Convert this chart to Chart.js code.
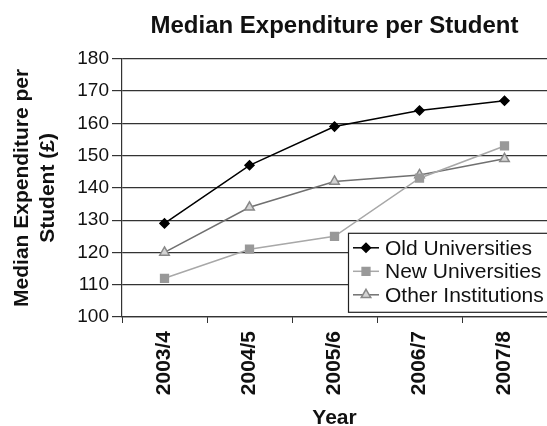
<!DOCTYPE html>
<html lang="en">
<head>
  <meta charset="UTF-8" />
  <title>Median Expenditure per Student</title>
  <script src="https://cdn.jsdelivr.net/npm/chart.js"></script>
  <style>
    * { margin: 0; padding: 0; box-sizing: border-box; }
    body { background: white; }
    #wrap { width: 547px; height: 426px; }
  </style>
</head>
<body>
  <div id="wrap">
    <canvas id="chart" width="547" height="426"></canvas>
  </div>

  <script>
    // data
    const years = ["2003/4", "2004/5", "2005/6", "2006/7", "2007/8"];
    const oldUniversities = [129, 147, 159, 164, 167];
    const newUniversities = [112, 121, 125, 143, 153];
    const otherInstitutions = [120, 134, 142, 144, 149];

    const FONT = "'Liberation Sans', Arial, sans-serif";

    // legend drawn as a framed box inside the plot, bottom right
    const boxLegend = {
      id: 'boxLegend',
      afterDatasetsDraw(chart) {
        const ctx = chart.ctx;
        const area = chart.chartArea;
        const x = area.left + 226;
        const y = area.top + 174;
        const w = chart.width - x + 2;
        const h = 79;
        ctx.save();
        ctx.fillStyle = 'white';
        ctx.fillRect(x, y, w, h);
        ctx.strokeStyle = '#222';
        ctx.lineWidth = 1.2;
        ctx.strokeRect(x + 0.5, y + 0.5, w, h);
        ctx.font = '21px ' + FONT;
        ctx.textBaseline = 'middle';
        chart.data.datasets.forEach((ds, i) => {
          const ry = y + 15 + i * 23.5;
          ctx.strokeStyle = ds.borderColor;
          ctx.lineWidth = 1.5;
          ctx.beginPath();
          ctx.moveTo(x + 5, ry);
          ctx.lineTo(x + 31, ry);
          ctx.stroke();
          ctx.fillStyle = ds.pointBackgroundColor;
          ctx.strokeStyle = ds.pointBorderColor;
          Chart.helpers.drawPoint(ctx, {
            pointStyle: ds.pointStyle,
            radius: ds.pointRadius,
            rotation: 0,
            borderWidth: 1
          }, x + 18, ry);
          ctx.fillStyle = '#111';
          ctx.fillText(ds.label, x + 37, ry + 1);
        });
        ctx.restore();
      }
    };

    new Chart(document.getElementById('chart'), {
      type: 'line',
      data: {
        labels: years,
        datasets: [{
          label: 'Old Universities',
          data: oldUniversities,
          borderColor: '#000',
          borderWidth: 1.5,
          pointStyle: 'rectRot',
          pointRadius: 4.5,
          pointBackgroundColor: '#000',
          pointBorderColor: '#000',
          tension: 0
        }, {
          label: 'New Universities',
          data: newUniversities,
          borderColor: '#a8a8a8',
          borderWidth: 1.5,
          pointStyle: 'rect',
          pointRadius: 5.5,
          pointBackgroundColor: '#999',
          pointBorderColor: '#999',
          tension: 0
        }, {
          label: 'Other Institutions',
          data: otherInstitutions,
          borderColor: '#707070',
          borderWidth: 1.5,
          pointStyle: 'triangle',
          pointRadius: 5.5,
          pointBackgroundColor: '#d4d4d4',
          pointBorderColor: '#888',
          tension: 0
        }]
      },
      options: {
        responsive: false,
        animation: false,
        layout: { padding: 0, autoPadding: false },
        plugins: {
          legend: { display: false },
          tooltip: { enabled: false },
          title: {
            display: true,
            text: 'Median Expenditure per Student',
            fullSize: false,
            color: '#111',
            font: { family: FONT, size: 24, weight: 'bold' },
            padding: { top: 12, bottom: 18 }
          }
        },
        scales: {
          x: {
            offset: true,
            afterFit(scale) {
              scale.height = 109;
              scale.paddingLeft = 0;
              scale.paddingRight = 0;
            },
            grid: {
              offset: true,
              drawOnChartArea: false,
              tickLength: 6,
              color: '#333'
            },
            border: { color: '#333', width: 1.2 },
            ticks: {
              minRotation: 90,
              maxRotation: 90,
              padding: 8,
              color: '#111',
              font: { family: FONT, size: 21, weight: 'bold' }
            },
            title: {
              display: true,
              text: 'Year',
              color: '#111',
              font: { family: FONT, size: 21, weight: 'bold', lineHeight: 1 },
              padding: { top: 0, bottom: -3 }
            }
          },
          y: {
            min: 100,
            max: 180,
            afterFit(scale) { scale.width = 122; },
            grid: {
              color: '#333',
              lineWidth: 1.2,
              tickLength: 10
            },
            border: { color: '#333', width: 1.2 },
            ticks: {
              stepSize: 10,
              padding: 3,
              color: '#111',
              font: { family: FONT, size: 19 }
            },
            title: {
              display: true,
              text: ['Median Expenditure per', 'Student (\u00a3)'],
              color: '#111',
              font: { family: FONT, size: 21, weight: 'bold', lineHeight: 1.2 },
              padding: { top: 10, bottom: 0 }
            }
          }
        }
      },
      plugins: [boxLegend]
    });
  </script>
</body>
</html>
